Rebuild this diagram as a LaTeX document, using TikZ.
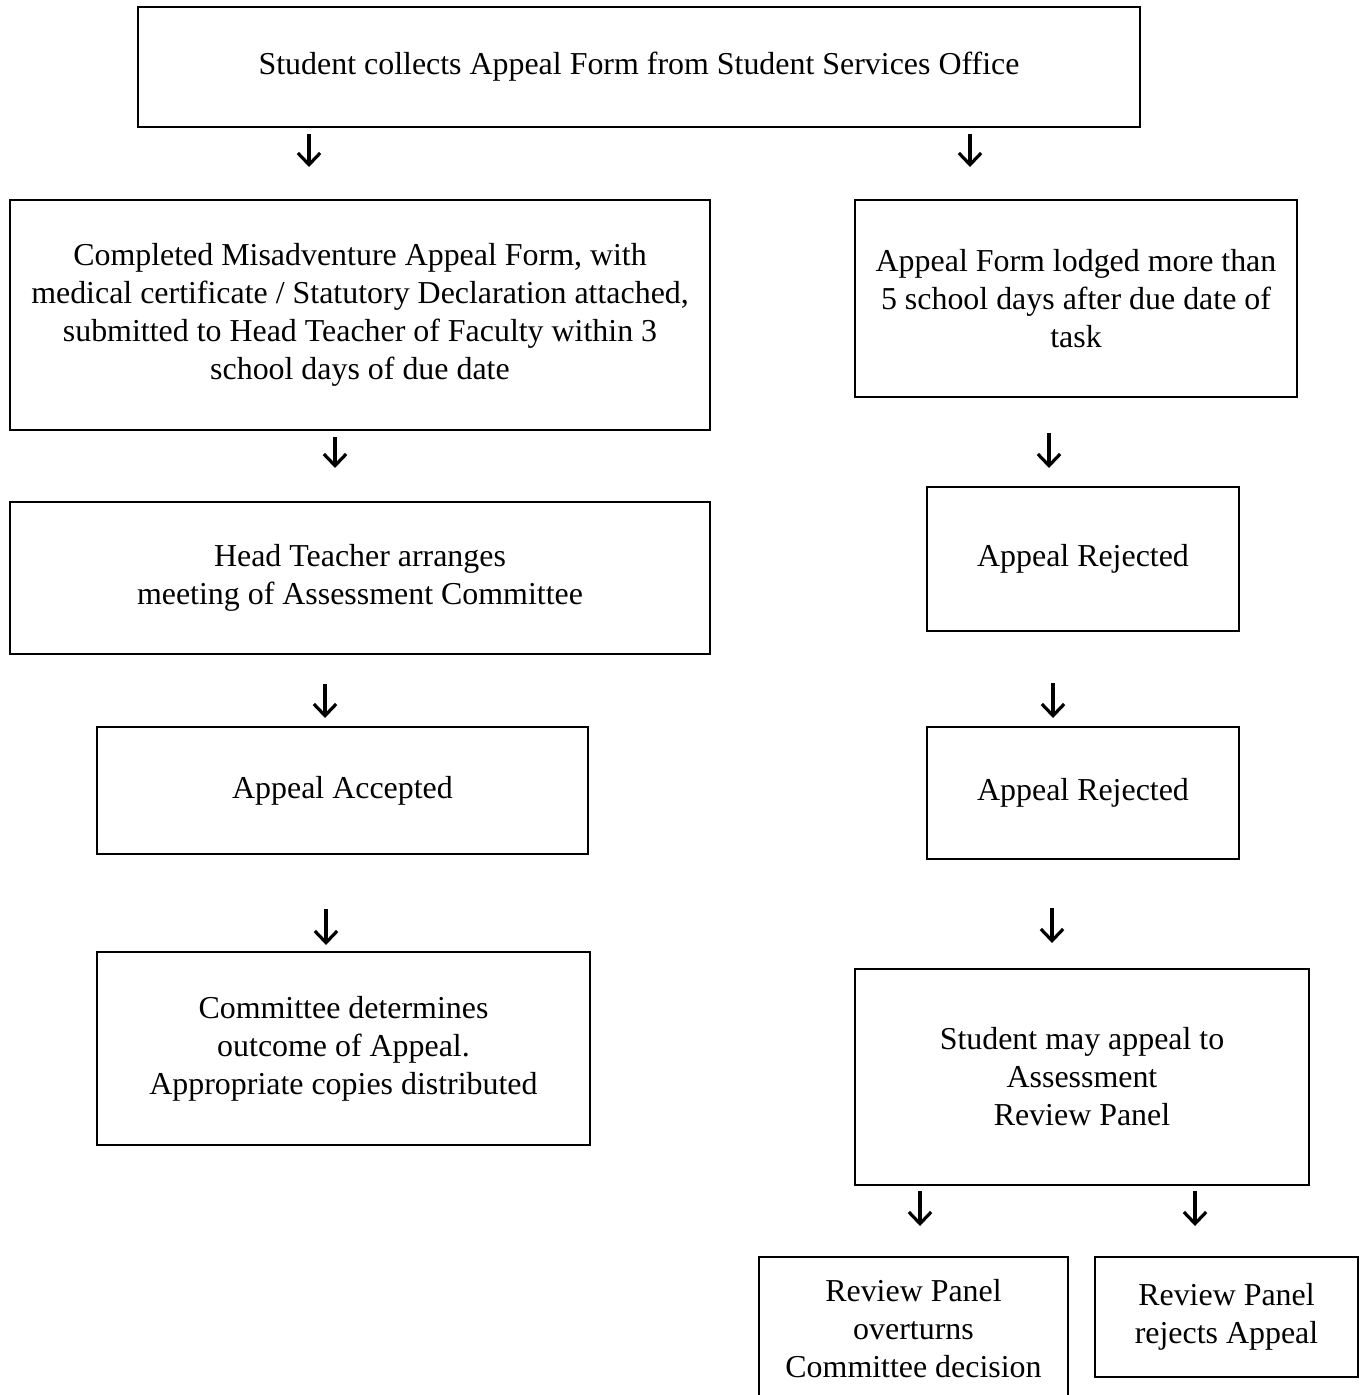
\documentclass[tikz,border=0pt]{standalone}
\usepackage{fontspec}
\setmainfont{Liberation Serif}
\usetikzlibrary{arrows.meta}
\tikzset{wh/.style 2 args={minimum width=#1*0.376pt,minimum height=#2*0.376pt}}

\begin{document}
\begin{tikzpicture}[x=0.376pt,y=-0.376pt]
  \tikzstyle{abox}=[draw,align=center,inner sep=0pt,line width=1.1pt,
    font=\fontsize{12}{14.3}\selectfont]
  \tikzstyle{thinbox}=[abox,line width=0.75pt]
  \tikzstyle{arrowline}=[draw,line width=1.2pt,-{Straight Barb[length=4.4pt,width=8.4pt]}]

  \useasboundingbox (0,0) rectangle (1364,1395);

  \node [abox,wh={1002}{120}] (collect) at (639,67)
    {Student collects Appeal Form from Student Services Office};

  % left column
  \node [abox,wh={700}{230}] (submit) at (360,315)
    {Completed Misadventure Appeal Form, with\\
     medical certificate / Statutory Declaration attached,\\
     submitted to Head Teacher of Faculty within 3\\
     school days of due date};
  \node [abox,wh={700}{152}] (arrange) at (360,578)
    {Head Teacher arranges\\meeting of Assessment Committee};
  \node [abox,wh={491}{127}] (accept) at (342.5,790.5) {Appeal Accepted};
  \node [abox,wh={493}{193}] (outcome) at (343.5,1048.5)
    {Committee determines\\outcome of Appeal.\\Appropriate copies distributed};

  % right column
  \node [thinbox,wh={442}{197}] (late) at (1076,298.5)
    {Appeal Form lodged more than\\5 school days after due date of\\task};
  \node [thinbox,wh={312}{144}] (reject1) at (1083,559) {Appeal Rejected};
  \node [thinbox,wh={312}{132}] (reject2) at (1083,793) {Appeal Rejected};
  \node [thinbox,wh={454}{216}] (review) at (1082,1077)
    {Student may appeal to\\Assessment\\Review Panel};
  \node [thinbox,wh={309}{144}] (overturn) at (913.5,1329)
    {Review Panel\\overturns\\Committee decision};
  \node [thinbox,wh={263}{120}] (panelno) at (1226.5,1317)
    {Review Panel\\rejects Appeal};

  % down arrows between the boxes
  \foreach \n/\x/\ya/\yb in {1/309/134/167, 2/970/134/167, 3/335/437/468,
      4/1049/433/468, 5/325/684/718, 6/1053/683/718, 7/326/909/945,
      8/1052/908/943, 9/920/1191/1226, 10/1195/1191/1226} {
    \coordinate (s\n) at (\x,\ya);
    \coordinate (e\n) at (\x,\yb);
    \path [arrowline] (s\n) -- (e\n);
  }
\end{tikzpicture}
\end{document}
